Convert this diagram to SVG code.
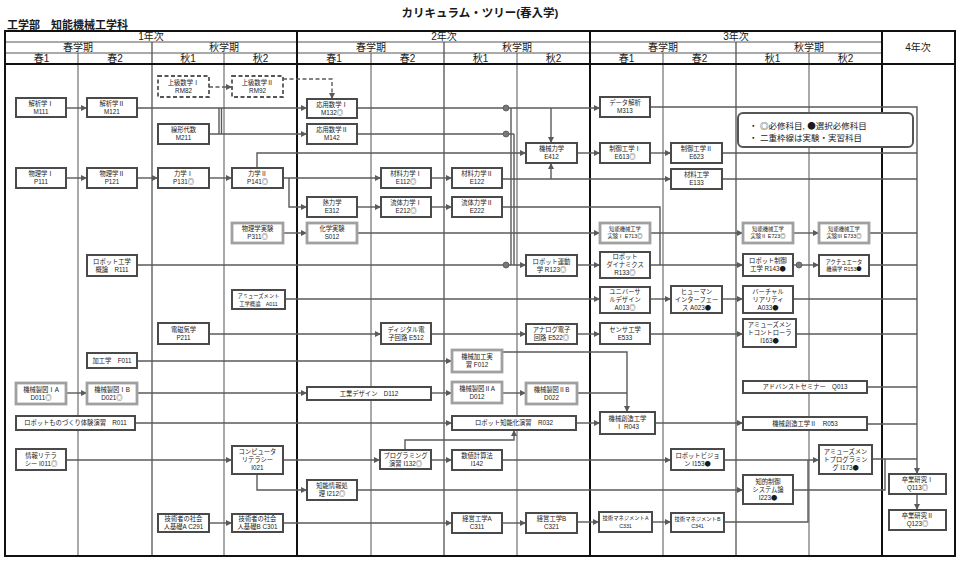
<svg xmlns="http://www.w3.org/2000/svg" width="960" height="567" viewBox="0 0 960 567">
<style>
text{font-family:'Liberation Sans','Noto Sans CJK JP',sans-serif;fill:#1a1a1a}
.k{font-family:'Noto Sans CJK JP',sans-serif}
.hd{font-size:10px;text-anchor:middle}
.n rect{fill:#fff;stroke:#4a4a4a;stroke-width:2}
.n.d rect{stroke:#a0a0a0;stroke-width:2.8}
.n.x rect{stroke:#555;stroke-width:1.8;stroke-dasharray:4 2.5}
.n text{font-size:6.3px;text-anchor:middle}
.n text.s{font-size:5.3px}
.c path{fill:none;stroke:#5a5a5a;stroke-width:1.4}
.c path.dash{stroke-dasharray:4 2.5}
.c circle{fill:#777;stroke:#555;stroke-width:0.8}
.g1{stroke:#111;stroke-width:2}
.g2{stroke:#444;stroke-width:1.2}
.g3{stroke:#555;stroke-width:1}
</style>
<defs>
<marker id="a" markerUnits="userSpaceOnUse" markerWidth="6" markerHeight="6" refX="6" refY="3" orient="auto"><path d="M0,0 L6,3 L0,6 z" fill="#5a5a5a"/></marker>
</defs>
<rect width="960" height="567" fill="#fff"/>
<text x="480" y="17" text-anchor="middle" font-size="11.5" font-weight="bold">カリキュラム・ツリー(春入学)</text>
<text x="7" y="29" font-size="11" font-weight="bold">工学部　知能機械工学科</text>
<g id="grid" fill="none">
<line class="g3" x1="78" y1="53" x2="78" y2="556"/>
<line class="g3" x1="224" y1="53" x2="224" y2="556"/>
<line class="g3" x1="371" y1="53" x2="371" y2="556"/>
<line class="g3" x1="517" y1="53" x2="517" y2="556"/>
<line class="g3" x1="663" y1="53" x2="663" y2="556"/>
<line class="g3" x1="809" y1="53" x2="809" y2="556"/>
<line class="g2" x1="152" y1="42" x2="152" y2="556"/>
<line class="g2" x1="444" y1="42" x2="444" y2="556"/>
<line class="g2" x1="736" y1="42" x2="736" y2="556"/>
<line class="g3" x1="5" y1="42" x2="882" y2="42"/>
<line class="g3" x1="5" y1="53" x2="882" y2="53"/>
<line class="g1" x1="5" y1="64" x2="955" y2="64"/>
<line class="g1" x1="297" y1="31" x2="297" y2="556"/>
<line class="g1" x1="590" y1="31" x2="590" y2="556"/>
<line class="g1" x1="882" y1="31" x2="882" y2="556"/>
<rect class="g1" x="5" y="31" width="950" height="525"/>
</g>
<g id="header">
<text class="hd" x="151" y="40">1年次</text>
<text class="hd" x="444" y="40">2年次</text>
<text class="hd" x="736" y="40">3年次</text>
<text class="hd" x="918" y="51">4年次</text>
<text class="hd" x="78" y="51">春学期</text>
<text class="hd" x="224" y="51">秋学期</text>
<text class="hd" x="371" y="51">春学期</text>
<text class="hd" x="517" y="51">秋学期</text>
<text class="hd" x="663" y="51">春学期</text>
<text class="hd" x="809" y="51">秋学期</text>
<text class="hd" x="41.5" y="62">春1</text>
<text class="hd" x="115" y="62">春2</text>
<text class="hd" x="188" y="62">秋1</text>
<text class="hd" x="260.5" y="62">秋2</text>
<text class="hd" x="334" y="62">春1</text>
<text class="hd" x="407.5" y="62">春2</text>
<text class="hd" x="480.5" y="62">秋1</text>
<text class="hd" x="553.5" y="62">秋2</text>
<text class="hd" x="626.5" y="62">春1</text>
<text class="hd" x="699.5" y="62">春2</text>
<text class="hd" x="772.5" y="62">秋1</text>
<text class="hd" x="845.5" y="62">秋2</text>
</g>
<g id="connectors" class="c">
<path class="dash" d="M209,87 H232" marker-end="url(#a)"/>
<path class="dash" d="M283,79 H332 V99" marker-end="url(#a)"/>
<path d="M66,108 H87" marker-end="url(#a)"/>
<path d="M137,108 H307" marker-end="url(#a)"/>
<path d="M219,108 V134 M221.5,108 V134"/>
<path d="M209,134 H307" marker-end="url(#a)"/>
<path d="M357,108 H600" marker-end="url(#a)"/>
<path d="M551,108 V143" marker-end="url(#a)"/>
<path d="M511,108 V265 M514,134 V265 M357,134 H514"/>
<path d="M650,107 H917 V474" marker-end="url(#a)"/>
<path d="M66,178 H87" marker-end="url(#a)"/>
<path d="M137,178 H158" marker-end="url(#a)"/>
<path d="M209,178 H232" marker-end="url(#a)"/>
<path d="M283,178 H381" marker-end="url(#a)"/>
<path d="M431,178 H452" marker-end="url(#a)"/>
<path d="M502,179 H671" marker-end="url(#a)"/>
<path d="M551,179 V163" marker-end="url(#a)"/>
<path d="M257,168 V153 H526" marker-end="url(#a)"/>
<path d="M289,178 V207 H307" marker-end="url(#a)"/>
<path d="M357,207 H381" marker-end="url(#a)"/>
<path d="M431,207 H452" marker-end="url(#a)"/>
<path d="M502,207 H660 V265"/>
<path d="M577,153 H600" marker-end="url(#a)"/>
<path d="M650,153 H671" marker-end="url(#a)"/>
<path d="M722,153 H917 M722,179 H917"/>
<path d="M283,233 H307" marker-end="url(#a)"/>
<path d="M357,233 H600" marker-end="url(#a)"/>
<path d="M650,233 H743" marker-end="url(#a)"/>
<path d="M793,233 H819" marker-end="url(#a)"/>
<path d="M869,233 H917"/>
<path d="M137,265 H526" marker-end="url(#a)"/>
<path d="M577,265 H600" marker-end="url(#a)"/>
<path d="M650,265 H743" marker-end="url(#a)"/>
<path d="M793,265 H819" marker-end="url(#a)"/>
<path d="M869,265 H917"/>
<path d="M285,299 H600" marker-end="url(#a)"/>
<path d="M650,299 H671" marker-end="url(#a)"/>
<path d="M722,299 H743" marker-end="url(#a)"/>
<path d="M793,299 H917"/>
<path d="M209,334 H381" marker-end="url(#a)"/>
<path d="M431,334 H526" marker-end="url(#a)"/>
<path d="M577,334 H600" marker-end="url(#a)"/>
<path d="M650,334 H743" marker-end="url(#a)"/>
<path d="M796,334 H917"/>
<path d="M137,361 H452" marker-end="url(#a)"/>
<path d="M502,352 H627 V412" marker-end="url(#a)"/>
<path d="M66,393 H87" marker-end="url(#a)"/>
<path d="M137,393 H307" marker-end="url(#a)"/>
<path d="M431,393 H452" marker-end="url(#a)"/>
<path d="M502,393 H526" marker-end="url(#a)"/>
<path d="M577,393 H627"/>
<path d="M867,387 H917"/>
<path d="M135,423 H452" marker-end="url(#a)"/>
<path d="M576,423 H600" marker-end="url(#a)"/>
<path d="M655,423 H743" marker-end="url(#a)"/>
<path d="M867,424 H917"/>
<path d="M66,460 H232" marker-end="url(#a)"/>
<path d="M283,460 H380" marker-end="url(#a)"/>
<path d="M257,474 V490 H307" marker-end="url(#a)"/>
<path d="M431,460 H452" marker-end="url(#a)"/>
<path d="M502,460 H671" marker-end="url(#a)"/>
<path d="M724,460 H819" marker-end="url(#a)"/>
<path d="M872,459 H917"/>
<path d="M405,450 V440 H514 V430" marker-end="url(#a)"/>
<path d="M357,490 H743" marker-end="url(#a)"/>
<path d="M793,490 H885 V459"/>
<path d="M209,523 H232" marker-end="url(#a)"/>
<path d="M283,523 H452" marker-end="url(#a)"/>
<path d="M502,523 H526" marker-end="url(#a)"/>
<path d="M577,522 H599" marker-end="url(#a)"/>
<path d="M652,522 H671" marker-end="url(#a)"/>
<path d="M724,522 H808 V460"/>
<path d="M917,494 V510" marker-end="url(#a)"/>
<circle cx="506" cy="108" r="3"/>
<circle cx="506" cy="134" r="3"/>
<circle cx="506" cy="265" r="3"/>
<circle cx="799" cy="265" r="3"/>
</g>
<g id="legend">
<rect x="738" y="113" width="175" height="34" rx="5" fill="#fff" stroke="#555" stroke-width="2"/>
<text x="749" y="129" font-size="8.5">・</text>
<text x="760" y="129" font-size="8.5"><tspan class="k">◎</tspan>必修科目, <tspan class="k">●</tspan>選択必修科目</text>
<text x="749" y="140.5" font-size="8.5">・</text>
<text x="760" y="140.5" font-size="8.5">二重枠線は実験・実習科目</text>
</g>
<g id="RM82" class="n x"><rect x="158" y="76" width="51" height="21"/><text x="183.5" y="84.7">上級数学Ⅰ<tspan x="183.5" dy="8">RM82</tspan></text></g>
<g id="RM92" class="n x"><rect x="232" y="76" width="51" height="21"/><text x="257.5" y="84.7">上級数学Ⅱ<tspan x="257.5" dy="8">RM92</tspan></text></g>
<g id="M111" class="n"><rect x="16" y="98" width="50" height="19"/><text x="41" y="105.7">解析学Ⅰ<tspan x="41" dy="8">M111</tspan></text></g>
<g id="M121" class="n"><rect x="87" y="98" width="50" height="19"/><text x="112" y="105.7">解析学Ⅱ<tspan x="112" dy="8">M121</tspan></text></g>
<g id="M211" class="n"><rect x="158" y="124" width="51" height="20"/><text x="183.5" y="132.2">線形代数<tspan x="183.5" dy="8">M211</tspan></text></g>
<g id="M132" class="n"><rect x="307" y="99" width="50" height="19"/><text x="332" y="106.7">応用数学Ⅰ<tspan x="332" dy="8">M132◎</tspan></text></g>
<g id="M142" class="n"><rect x="307" y="124" width="50" height="20"/><text x="332" y="132.2">応用数学Ⅱ<tspan x="332" dy="8">M142</tspan></text></g>
<g id="P111" class="n"><rect x="16" y="168" width="50" height="20"/><text x="41" y="176.2">物理学Ⅰ<tspan x="41" dy="8">P111</tspan></text></g>
<g id="P121" class="n"><rect x="87" y="168" width="50" height="20"/><text x="112" y="176.2">物理学Ⅱ<tspan x="112" dy="8">P121</tspan></text></g>
<g id="P131" class="n"><rect x="158" y="168" width="51" height="20"/><text x="183.5" y="176.2">力学Ⅰ<tspan x="183.5" dy="8">P131◎</tspan></text></g>
<g id="P141" class="n"><rect x="232" y="168" width="51" height="20"/><text x="257.5" y="176.2">力学Ⅱ<tspan x="257.5" dy="8">P141◎</tspan></text></g>
<g id="E112" class="n"><rect x="381" y="168" width="50" height="20"/><text x="406" y="176.2">材料力学Ⅰ<tspan x="406" dy="8">E112◎</tspan></text></g>
<g id="E122" class="n"><rect x="452" y="168" width="50" height="20"/><text x="477" y="176.2">材料力学Ⅱ<tspan x="477" dy="8">E122</tspan></text></g>
<g id="E412" class="n"><rect x="526" y="143" width="51" height="20"/><text x="551.5" y="151.2">機械力学<tspan x="551.5" dy="8">E412</tspan></text></g>
<g id="M313" class="n"><rect x="600" y="97" width="50" height="20"/><text x="625" y="105.2">データ解析<tspan x="625" dy="8">M313</tspan></text></g>
<g id="E613" class="n"><rect x="600" y="143" width="50" height="20"/><text x="625" y="151.2">制御工学Ⅰ<tspan x="625" dy="8">E613◎</tspan></text></g>
<g id="E623" class="n"><rect x="671" y="143" width="51" height="20"/><text x="696.5" y="151.2">制御工学Ⅱ<tspan x="696.5" dy="8">E623</tspan></text></g>
<g id="E133" class="n"><rect x="671" y="169" width="51" height="20"/><text x="696.5" y="177.2">材料工学<tspan x="696.5" dy="8">E133</tspan></text></g>
<g id="E312" class="n"><rect x="307" y="197" width="50" height="20"/><text x="332" y="205.2">熱力学<tspan x="332" dy="8">E312</tspan></text></g>
<g id="E212" class="n"><rect x="381" y="197" width="50" height="20"/><text x="406" y="205.2">流体力学Ⅰ<tspan x="406" dy="8">E212◎</tspan></text></g>
<g id="E222" class="n"><rect x="452" y="197" width="50" height="20"/><text x="477" y="205.2">流体力学Ⅱ<tspan x="477" dy="8">E222</tspan></text></g>
<g id="P311" class="n d"><rect x="232" y="223" width="51" height="20"/><text x="257.5" y="231.2">物理学実験<tspan x="257.5" dy="8">P311◎</tspan></text></g>
<g id="S012" class="n d"><rect x="307" y="223" width="50" height="20"/><text x="332" y="231.2">化学実験<tspan x="332" dy="8">S012</tspan></text></g>
<g id="E713" class="n d"><rect x="600" y="223" width="50" height="20"/><text class="s" x="625" y="231.4">知能機械工学<tspan x="625" dy="7">実験Ⅰ E713◎</tspan></text></g>
<g id="E723" class="n d"><rect x="743" y="223" width="50" height="20"/><text class="s" x="768" y="231.4">知能機械工学<tspan x="768" dy="7">実験Ⅱ E723◎</tspan></text></g>
<g id="E733" class="n d"><rect x="819" y="223" width="50" height="20"/><text class="s" x="844" y="231.4">知能機械工学<tspan x="844" dy="7">実験Ⅲ E733◎</tspan></text></g>
<g id="R111" class="n"><rect x="87" y="255" width="50" height="21"/><text x="112" y="263.7">ロボット工学<tspan x="112" dy="8">概論　R111</tspan></text></g>
<g id="R123" class="n"><rect x="526" y="255" width="51" height="21"/><text x="551.5" y="263.7">ロボット運動<tspan x="551.5" dy="8">学 R123◎</tspan></text></g>
<g id="R133" class="n"><rect x="600" y="252" width="50" height="26"/><text x="625" y="259.2">ロボット<tspan x="625" dy="8">ダイナミクス</tspan><tspan x="625" dy="8">R133◎</tspan></text></g>
<g id="R143" class="n"><rect x="743" y="254" width="50" height="22"/><text x="768" y="263.2">ロボット制御<tspan x="768" dy="8">工学 R143<tspan class="k">●</tspan></tspan></text></g>
<g id="R153" class="n"><rect x="819" y="255" width="50" height="21"/><text class="s" x="844" y="263.9">アクチュエータ<tspan x="844" dy="7.5">機構学 R153<tspan class="k">●</tspan></tspan></text></g>
<g id="A011" class="n"><rect x="232" y="290" width="53" height="19"/><text class="s" x="258.5" y="298">アミューズメント<tspan x="258.5" dy="7.5">工学概論　A011</tspan></text></g>
<g id="A013" class="n"><rect x="600" y="287" width="50" height="26"/><text x="625" y="294.2">ユニバーサ<tspan x="625" dy="8">ルデザイン</tspan><tspan x="625" dy="8">A013◎</tspan></text></g>
<g id="A023" class="n"><rect x="671" y="286" width="51" height="27"/><text x="696.5" y="293.7">ヒューマン<tspan x="696.5" dy="8">インターフェー</tspan><tspan x="696.5" dy="8">ス A023<tspan class="k">●</tspan></tspan></text></g>
<g id="A033" class="n"><rect x="743" y="286" width="50" height="27"/><text x="768" y="293.7">バーチャル<tspan x="768" dy="8">リアリティ</tspan><tspan x="768" dy="8">A033<tspan class="k">●</tspan></tspan></text></g>
<g id="P211" class="n"><rect x="158" y="323" width="51" height="21"/><text x="183.5" y="331.7">電磁気学<tspan x="183.5" dy="8">P211</tspan></text></g>
<g id="E512" class="n"><rect x="381" y="323" width="50" height="21"/><text x="406" y="331.7">ディジタル電<tspan x="406" dy="8">子回路 E512</tspan></text></g>
<g id="E522" class="n"><rect x="526" y="324" width="51" height="20"/><text x="551.5" y="332.2">アナログ電子<tspan x="551.5" dy="8">回路 E522◎</tspan></text></g>
<g id="E533" class="n"><rect x="600" y="323" width="50" height="21"/><text x="625" y="331.7">センサ工学<tspan x="625" dy="8">E533</tspan></text></g>
<g id="I163" class="n"><rect x="743" y="319" width="53" height="28"/><text x="769.5" y="327.2">アミューズメン<tspan x="769.5" dy="8">トコントローラ</tspan><tspan x="769.5" dy="8">I163<tspan class="k">●</tspan></tspan></text></g>
<g id="F011" class="n"><rect x="87" y="353" width="50" height="15"/><text x="112" y="362.7">加工学　F011</text></g>
<g id="F012" class="n d"><rect x="452" y="350" width="50" height="22"/><text x="477" y="359.2">機械加工実<tspan x="477" dy="8">習 F012</tspan></text></g>
<g id="Q013" class="n"><rect x="743" y="381" width="124" height="12"/><text x="805" y="389.2">アドバンストセミナー　Q013</text></g>
<g id="D011" class="n d"><rect x="16" y="383" width="50" height="21"/><text x="41" y="391.7">機械製図ⅠA<tspan x="41" dy="8">D011◎</tspan></text></g>
<g id="D021" class="n d"><rect x="87" y="383" width="50" height="21"/><text x="112" y="391.7">機械製図ⅠB<tspan x="112" dy="8">D021◎</tspan></text></g>
<g id="D112" class="n"><rect x="307" y="387" width="124" height="13"/><text x="369" y="395.7">工業デザイン　D112</text></g>
<g id="D012" class="n d"><rect x="452" y="382" width="50" height="21"/><text x="477" y="390.7">機械製図ⅡA<tspan x="477" dy="8">D012</tspan></text></g>
<g id="D022" class="n d"><rect x="526" y="383" width="51" height="21"/><text x="551.5" y="391.7">機械製図ⅡB<tspan x="551.5" dy="8">D022</tspan></text></g>
<g id="R011" class="n"><rect x="16" y="416" width="119" height="14"/><text x="75.5" y="425.2">ロボットものづくり体験演習　R011</text></g>
<g id="R032" class="n"><rect x="452" y="416" width="124" height="14"/><text x="514" y="425.2">ロボット知能化演習　R032</text></g>
<g id="R043" class="n"><rect x="600" y="412" width="55" height="22"/><text x="627.5" y="421.2">機械創造工学<tspan x="627.5" dy="8">Ⅰ R043</tspan></text></g>
<g id="R053" class="n"><rect x="743" y="417" width="124" height="13"/><text x="805" y="425.7">機械創造工学Ⅱ　R053</text></g>
<g id="I011" class="n"><rect x="16" y="449" width="50" height="21"/><text x="41" y="457.7">情報リテラ<tspan x="41" dy="8">シー I011◎</tspan></text></g>
<g id="I021" class="n"><rect x="232" y="446" width="51" height="28"/><text x="257.5" y="454.2">コンピュータ<tspan x="257.5" dy="8">リテラシー</tspan><tspan x="257.5" dy="8">I021</tspan></text></g>
<g id="I132" class="n"><rect x="380" y="450" width="51" height="19"/><text x="405.5" y="457.7">プログラミング<tspan x="405.5" dy="8">演習 I132◎</tspan></text></g>
<g id="I142" class="n"><rect x="452" y="450" width="50" height="20"/><text x="477" y="458.2">数値計算法<tspan x="477" dy="8">I142</tspan></text></g>
<g id="I153" class="n"><rect x="671" y="449" width="53" height="21"/><text x="697.5" y="457.7">ロボットビジョ<tspan x="697.5" dy="8">ン I153<tspan class="k">●</tspan></tspan></text></g>
<g id="I173" class="n"><rect x="819" y="445" width="53" height="29"/><text x="845.5" y="453.7">アミューズメン<tspan x="845.5" dy="8">トプログラミン</tspan><tspan x="845.5" dy="8">グ I173<tspan class="k">●</tspan></tspan></text></g>
<g id="I212" class="n"><rect x="307" y="480" width="50" height="20"/><text x="332" y="488.2">知能情報処<tspan x="332" dy="8">理 I212◎</tspan></text></g>
<g id="I223" class="n"><rect x="743" y="475" width="50" height="29"/><text x="768" y="483.7">知的制御<tspan x="768" dy="8">システム論</tspan><tspan x="768" dy="8">I223<tspan class="k">●</tspan></tspan></text></g>
<g id="Q113" class="n"><rect x="889" y="474" width="57" height="20"/><text x="917.5" y="482.2">卒業研究Ⅰ<tspan x="917.5" dy="8">Q113◎</tspan></text></g>
<g id="Q123" class="n"><rect x="889" y="510" width="57" height="20"/><text x="917.5" y="518.2">卒業研究Ⅱ<tspan x="917.5" dy="8">Q123◎</tspan></text></g>
<g id="C291" class="n"><rect x="158" y="514" width="51" height="18"/><text x="183.5" y="521.2">技術者の社会<tspan x="183.5" dy="8">人基礎A C291</tspan></text></g>
<g id="C301" class="n"><rect x="232" y="514" width="51" height="18"/><text x="257.5" y="521.2">技術者の社会<tspan x="257.5" dy="8">人基礎B C301</tspan></text></g>
<g id="C311" class="n"><rect x="452" y="513" width="50" height="20"/><text x="477" y="521.2">経営工学A<tspan x="477" dy="8">C311</tspan></text></g>
<g id="C321" class="n"><rect x="526" y="513" width="51" height="20"/><text x="551.5" y="521.2">経営工学B<tspan x="551.5" dy="8">C321</tspan></text></g>
<g id="C331" class="n"><rect x="599" y="512" width="53" height="20"/><text class="s" x="625.5" y="520.4">技術マネジメントA<tspan x="625.5" dy="7.5">C331</tspan></text></g>
<g id="C341" class="n"><rect x="671" y="513" width="53" height="19"/><text class="s" x="697.5" y="520.9">技術マネジメントB<tspan x="697.5" dy="7.5">C341</tspan></text></g>
</svg>
